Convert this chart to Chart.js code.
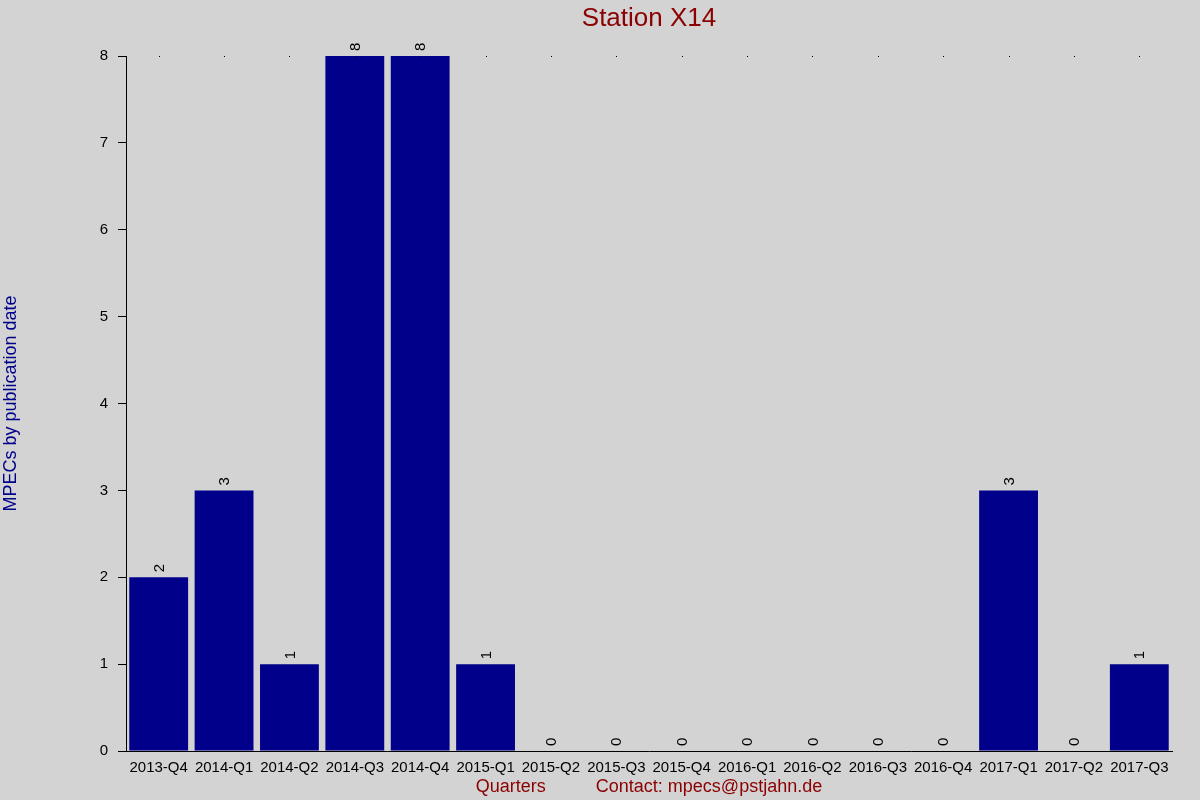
<!DOCTYPE html>
<html>
<head>
<meta charset="utf-8">
<script src="https://cdn.jsdelivr.net/npm/chart.js@4"></script>
<style>
  html, body { margin: 0; padding: 0; background: #d3d3d3; }
</style>
</head>
<body>
<canvas id="grafico" width="1200" height="800"></canvas>
<script>
// quarters and MPEC counts
const quarters = ['2013-Q4', '2014-Q1', '2014-Q2', '2014-Q3', '2014-Q4', '2015-Q1', '2015-Q2', '2015-Q3',
  '2015-Q4', '2016-Q1', '2016-Q2', '2016-Q3', '2016-Q4', '2017-Q1', '2017-Q2', '2017-Q3'];
const mpecs = [2, 3, 1, 8, 8, 1, 0, 0, 0, 0, 0, 0, 0, 3, 0, 1];
const yTicks = [0, 1, 2, 3, 4, 5, 6, 7, 8];

const titulo = 'Station X14';
const fuente = 'Liberation Sans, Arial, sans-serif';

// fondo gris + titulo centrado sobre el area del grafico
const fondo = {
  id: 'fondo',
  beforeDraw(chart) {
    const c = chart.ctx;
    c.save();
    c.fillStyle = '#d3d3d3';
    c.fillRect(0, 0, chart.width, chart.height);
    const a = chart.chartArea;
    c.fillStyle = '#8b0000';
    c.font = '26px ' + fuente;
    c.textAlign = 'center';
    c.textBaseline = 'middle';
    c.fillText(titulo, (a.left + a.right) / 2, 19);
    c.restore();
  }
};

// puntitos arriba + numeros girados sobre las barras
const etiquetas = {
  id: 'etiquetas',
  afterDatasetsDraw(chart) {
    const c = chart.ctx;
    const x = chart.scales.x;
    const top = chart.chartArea.top;
    c.save();
    c.fillStyle = '#000';
    quarters.forEach((q, i) => {
      c.fillRect(Math.round(x.getPixelForValue(i)), top, 1, 1);
    });
    c.font = '15px ' + fuente;
    c.textAlign = 'left';
    c.textBaseline = 'middle';
    chart.getDatasetMeta(0).data.forEach((bar, i) => {
      c.save();
      c.translate(bar.x + 1, bar.y - 5);
      c.rotate(-Math.PI / 2);
      c.fillText(String(mpecs[i]), 0, 0);
      c.restore();
    });
    c.restore();
  }
};

const ctx = document.getElementById('grafico');
new Chart(ctx, {
  type: 'bar',
  data: {
    labels: quarters,
    datasets: [{
      label: 'MPECs',
      data: mpecs,
      backgroundColor: '#00008b',
      borderWidth: 0,
      barPercentage: 0.9,
      categoryPercentage: 1.0
    }]
  },
  options: {
    responsive: false,
    animation: false,
    devicePixelRatio: 1,
    layout: { padding: { left: 0, right: 28, top: 56, bottom: 2 } },
    plugins: {
      legend: { display: false },
      tooltip: { enabled: false },
      title: { display: false }
    },
    scales: {
      x: {
        grid: { display: false },
        border: { display: true, color: '#000', width: 1 },
        ticks: {
          color: '#000',
          font: { family: fuente, size: 15 },
          maxRotation: 0,
          autoSkip: false,
          padding: 0
        },
        title: {
          display: true,
          text: 'Quarters          Contact: mpecs@pstjahn.de',
          color: '#8b0000',
          font: { family: fuente, size: 18 },
          padding: { top: 2, bottom: 0 }
        },
        afterFit(s) { s.height = 47; }
      },
      y: {
        min: 0,
        max: 8,
        afterBuildTicks(s) { s.ticks = yTicks.map(v => ({ value: v })); },
        grid: { drawOnChartArea: false, color: '#000', tickLength: 8 },
        border: { display: true, color: '#000', width: 1 },
        ticks: {
          color: '#000',
          font: { family: fuente, size: 15 },
          autoSkip: false,
          padding: 10
        },
        title: {
          display: true,
          text: 'MPECs by publication date',
          color: '#00008b',
          font: { family: fuente, size: 18 },
          padding: { top: 0, bottom: 0 }
        },
        afterFit(s) { s.width = 126; }
      }
    }
  },
  plugins: [fondo, etiquetas]
});
</script>
</body>
</html>
